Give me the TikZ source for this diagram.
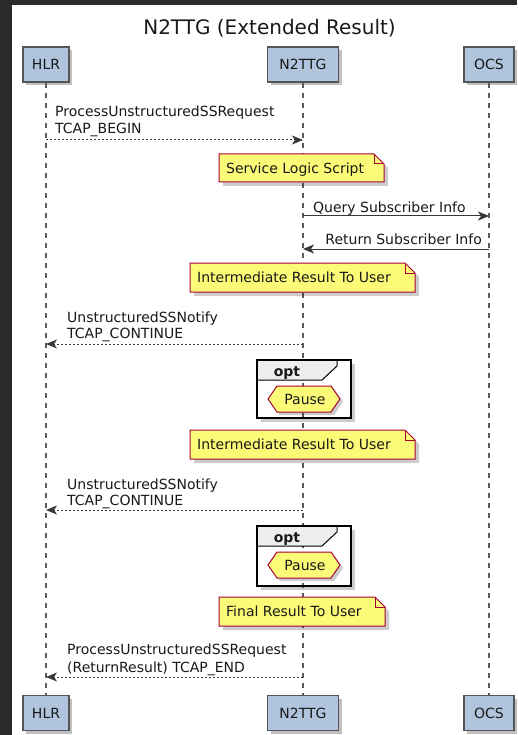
\documentclass[tikz,border=0pt]{standalone}
\usepackage{fontspec}
\setmainfont{DejaVu Sans}
\usetikzlibrary{arrows.meta,shadows,calc}
\definecolor{bgdark}{HTML}{2B2B2B}
\definecolor{partfill}{HTML}{B0C4DE}
\definecolor{partdraw}{HTML}{555555}
\definecolor{notefill}{HTML}{FBFB77}
\definecolor{notedraw}{HTML}{A80036}
\definecolor{msgc}{HTML}{383838}
\definecolor{lifec}{HTML}{5C5C5C}
\definecolor{tabfill}{HTML}{EEEEEE}
\newcommand\mynote[6]{%
  \fill[black,opacity=0.2] (#2+4,#3+4) -- (#4-10+4,#3+4) -- (#4+4,#3+10+4) -- (#4+4,#5+4) -- (#2+4,#5+4) -- cycle;
  \draw[notebox] (#2,#3) -- (#4-10,#3) -- (#4,#3+10) -- (#4,#5) -- (#2,#5) -- cycle;
  \draw[notefold] (#4-10,#3) -- (#4-10,#3+10) -- (#4,#3+10);
  \node[txt,anchor=base west] (#1) at (#2+7,{(#3+#5)/2+5.1}) {#6};}
\newcommand\framebg[4]{%
  \fill[black,opacity=0.2] (#1+4,#2+4) rectangle (#3+4,#4+4);
  \fill[white] (#1,#2) rectangle (#3,#4);}
\newcommand\optframe[6]{% name x1 y1 x2 y2 tabbottom
  \fill[tabfill] (#2,#3) -- (#4-14,#3) -- (#4-14,#3+6) -- (#4-29,#6) -- (#2,#6) -- cycle;
  \draw[line width=1pt] (#2,#6) -- (#4-29,#6) -- (#4-14,#3+6) -- (#4-14,#3);
  \draw[frameb] (#2,#3) rectangle (#4,#5);
  \node[txt,font=\fontsize{14}{17}\selectfont\bfseries,anchor=base] (#1) at (#2+30,#6-4) {opt};}
\newcommand\pausehex[3]{% name cx cy
  \fill[black,opacity=0.2] (#2-36+3,#3+3) -- (#2-27+3,#3-13+3) -- (#2+27+3,#3-13+3) -- (#2+36+3,#3+3) -- (#2+27+3,#3+13+3) -- (#2-27+3,#3+13+3) -- cycle;
  \draw[notebox] (#2-36,#3) -- (#2-27,#3-13) -- (#2+27,#3-13) -- (#2+36,#3) -- (#2+27,#3+13) -- (#2-27,#3+13) -- cycle;
  \node[txt,anchor=base] (#1) at (#2+1,#3+5.1) {Pause};}
\begin{document}
\begin{tikzpicture}[x=1pt,y=-1pt,
  txt/.style={font=\fontsize{14}{17}\selectfont, text=black!90, inner sep=0pt},
  part/.style={txt, draw=partdraw, line width=1.5pt, fill=partfill, minimum height=35pt,
    drop shadow={shadow xshift=3pt,shadow yshift=-3pt,opacity=0.35,fill=black!70}},
  lifeline/.style={draw=lifec, line width=1.4pt, dash pattern=on 5pt off 5pt},
  msgsolid/.style={draw=msgc, line width=1pt, -{Stealth[length=11pt,width=9pt,inset=3pt]}},
  msgdash/.style={msgsolid, dash pattern=on 2pt off 2pt},
  notebox/.style={draw=notedraw, fill=notefill, line width=1pt, line join=miter},
  notefold/.style={draw=notedraw, line width=1pt},
  frameb/.style={draw=black, line width=2pt}]
\useasboundingbox (0,0) rectangle (517,735);
\fill[bgdark] (0,0) rectangle (517,735);
\fill[white] (12,5) rectangle (517,735);
% title
\node[txt,font=\fontsize{20}{24}\selectfont,anchor=base] (title) at (269.5,35) {N2TTG (Extended Result)};
% frame backgrounds
\framebg{257}{360}{351}{418}
\framebg{257}{526}{351}{586}
% participants
\node[part,minimum width=46pt] (hlrT) at (46,64.5) {HLR};
\node[part,minimum width=71pt] (n2T) at (303,64.5) {N2TTG};
\node[part,minimum width=50pt] (ocsT) at (489,64.5) {OCS};
\node[part,minimum width=46pt] (hlrB) at (46,713) {HLR};
\node[part,minimum width=71pt] (n2B) at (303,713) {N2TTG};
\node[part,minimum width=50pt] (ocsB) at (489,713) {OCS};
\draw[lifeline] (hlrT.south) -- (hlrB.north);
\draw[lifeline] (n2T.south) -- (n2B.north);
\draw[lifeline] (ocsT.south) -- (ocsB.north);
% message 1
\coordinate (m1s) at (46,140); \coordinate (m1e) at (303,140);
\node[txt,anchor=base west] (m1a) at (55,117) {ProcessUnstructuredSSRequest};
\node[txt,anchor=base west] (m1b) at (55,134) {TCAP\_BEGIN};
\draw[msgdash] (m1s) -- (m1e);
% note 1
\mynote{note1}{219}{154}{384}{182}{Service Logic Script}
% message 2, 3
\coordinate (m2s) at (303,216); \coordinate (m2e) at (489,216);
\node[txt,anchor=base west] (m2a) at (313,212) {Query Subscriber Info};
\draw[msgsolid] (m2s) -- (m2e);
\coordinate (m3s) at (489,249); \coordinate (m3e) at (303,249);
\node[txt,anchor=base east] (m3a) at (482,244) {Return Subscriber Info};
\draw[msgsolid] (m3s) -- (m3e);
% note 2
\mynote{note2}{190}{263}{415}{292}{Intermediate Result To User}
% message 4
\coordinate (m4s) at (303,344); \coordinate (m4e) at (46,344);
\node[txt,anchor=base west] (m4a) at (67,322) {UnstructuredSSNotify};
\node[txt,anchor=base west] (m4b) at (67,338.5) {TCAP\_CONTINUE};
\draw[msgdash] (m4s) -- (m4e);
% opt 1
\optframe{opt1}{257}{360}{351}{418}{380}
\pausehex{pause1}{304}{399}
% note 3
\mynote{note3}{190}{430}{415}{459}{Intermediate Result To User}
% message 5
\coordinate (m5s) at (303,510); \coordinate (m5e) at (46,510);
\node[txt,anchor=base west] (m5a) at (67,489) {UnstructuredSSNotify};
\node[txt,anchor=base west] (m5b) at (67,505.5) {TCAP\_CONTINUE};
\draw[msgdash] (m5s) -- (m5e);
% opt 2
\optframe{opt2}{257}{526}{351}{586}{546}
\pausehex{pause2}{304}{565}
% note 4
\mynote{note4}{219}{597}{385}{626}{Final Result To User}
% message 6
\coordinate (m6s) at (303,677); \coordinate (m6e) at (46,677);
\node[txt,anchor=base west] (m6a) at (67,654.3) {ProcessUnstructuredSSRequest};
\node[txt,anchor=base west] (m6b) at (67,672) {(ReturnResult) TCAP\_END};
\draw[msgdash] (m6s) -- (m6e);
\end{tikzpicture}
\end{document}
